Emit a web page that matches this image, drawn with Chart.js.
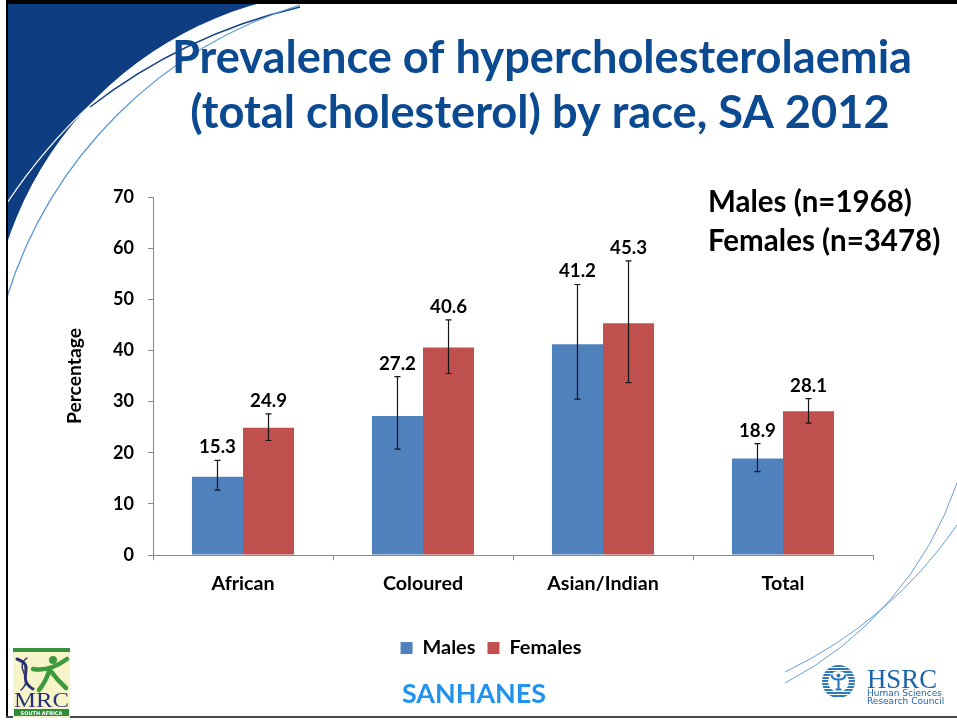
<!DOCTYPE html>
<html>
<head>
<meta charset="utf-8">
<title>Prevalence of hypercholesterolaemia by race, SA 2012</title>
<script src="https://cdn.jsdelivr.net/npm/chart.js@4.4.1/dist/chart.umd.min.js"></script>
<style>
  html, body { margin: 0; padding: 0; background: #fff; }
  #slide { position: relative; width: 957px; height: 722px; overflow: hidden; }
  canvas { display: block; }
</style>
</head>
<body>
<div id="slide"><canvas id="grafico" width="957" height="722"></canvas></div>
<script>
// Data
const categories = ['African', 'Coloured', 'Asian/Indian', 'Total'];
const males = [15.3, 27.2, 41.2, 18.9];
const females = [24.9, 40.6, 45.3, 28.1];
// 95% CI (error bars)
const malesLow = [12.7, 20.7, 30.5, 16.3];
const malesHigh = [18.5, 34.9, 52.9, 21.8];
const femalesLow = [22.4, 35.5, 33.7, 25.8];
const femalesHigh = [27.6, 46.0, 57.5, 30.6];
const yTicks = [0, 10, 20, 30, 40, 50, 60, 70];

const titleLines = ['Prevalence of hypercholesterolaemia', '(total cholesterol) by race, SA 2012'];
const sampleNotes = ['Males (n=1968)', 'Females (n=3478)'];

const BLUE = '#4f81bd';
const RED = '#c0504d';
const AXIS = '#898989';
const FONT = 'Lato';

// font size that makes a text fill a given width (Calibri is not installed)
const measurer = document.createElement('canvas').getContext('2d');
function fitSize(text, width, family = FONT, weight = 'bold') {
  measurer.font = `${weight} 100px ${family}`;
  return +(100 * width / measurer.measureText(text).width).toFixed(1);
}

const tickSize = fitSize('70', 21);
const catSize = fitSize('Asian/Indian', 112);
const legendSize = fitSize('Females', 72);
const valueSize = fitSize('15.3', 37);
const axisTitleSize = fitSize('Percentage', 96);
const titleSize = fitSize(titleLines[0], 740);
const noteSize = fitSize(sampleNotes[1], 232);
const footSize = fitSize('SANHANES', 144);

/* ── helpers for the slide decoration ── */
function circleFrom(p1, p2, p3) {
  const [ax, ay] = p1, [bx, by] = p2, [cx, cy] = p3;
  const d = 2 * (ax * (by - cy) + bx * (cy - ay) + cx * (ay - by));
  const ux = ((ax * ax + ay * ay) * (by - cy) + (bx * bx + by * by) * (cy - ay) + (cx * cx + cy * cy) * (ay - by)) / d;
  const uy = ((ax * ax + ay * ay) * (cx - bx) + (bx * bx + by * by) * (ax - cx) + (cx * cx + cy * cy) * (bx - ax)) / d;
  return { x: ux, y: uy, r: Math.hypot(ax - ux, ay - uy) };
}

function arcThrough(ctx, p1, p2, p3) {
  const c = circleFrom(p1, p2, p3);
  const ang = p => Math.atan2(p[1] - c.y, p[0] - c.x);
  const norm = a => ((a % (2 * Math.PI)) + 2 * Math.PI) % (2 * Math.PI);
  const a1 = ang(p1), a2 = ang(p2), a3 = ang(p3);
  ctx.beginPath();
  ctx.arc(c.x, c.y, c.r, a1, a3, norm(a2 - a1) > norm(a3 - a1));
  ctx.stroke();
}

function drawMrcLogo(ctx, x, y) {
  ctx.save();
  ctx.fillStyle = '#f6f4c8';
  ctx.fillRect(x, y, 57, 70);
  ctx.fillStyle = '#37903c';
  ctx.fillRect(x, y, 57, 4);
  // helix
  ctx.lineCap = 'round';
  ctx.strokeStyle = '#2b306f';
  ctx.lineWidth = 3;
  ctx.beginPath();
  ctx.moveTo(x + 4, y + 11);
  ctx.bezierCurveTo(x + 24, y + 18, x + 2, y + 30, x + 20, y + 41);
  ctx.stroke();
  ctx.lineWidth = 1.5;
  ctx.beginPath();
  ctx.moveTo(x + 14, y + 10);
  ctx.bezierCurveTo(x + 0, y + 20, x + 22, y + 30, x + 8, y + 42);
  ctx.stroke();
  // figure
  ctx.strokeStyle = '#3c9a3c';
  ctx.fillStyle = '#3c9a3c';
  ctx.lineWidth = 4.5;
  ctx.beginPath();
  ctx.moveTo(x + 20, y + 21);
  ctx.quadraticCurveTo(x + 36, y + 24, x + 54, y + 11);
  ctx.stroke();
  ctx.beginPath();
  ctx.moveTo(x + 37, y + 20);
  ctx.quadraticCurveTo(x + 34, y + 32, x + 26, y + 42);
  ctx.moveTo(x + 37, y + 22);
  ctx.quadraticCurveTo(x + 44, y + 32, x + 53, y + 40);
  ctx.stroke();
  ctx.beginPath();
  ctx.arc(x + 40, y + 12, 4, 0, Math.PI * 2);
  ctx.fill();
  // letters
  ctx.fillStyle = '#2c2f7c';
  ctx.font = '21px "Liberation Serif"';
  ctx.textAlign = 'left';
  ctx.textBaseline = 'alphabetic';
  const w = ctx.measureText('MRC').width;
  ctx.save();
  ctx.translate(x + 1, y + 59);
  ctx.scale(55 / w, 1);
  ctx.fillText('MRC', 0, 0);
  ctx.restore();
  ctx.fillStyle = '#2f8a3c';
  ctx.fillRect(x + 1, y + 61, 55, 7);
  ctx.fillStyle = '#fff';
  ctx.font = 'bold 5px "DejaVu Sans"';
  ctx.textAlign = 'center';
  ctx.fillText('SOUTH AFRICA', x + 28.5, y + 66.5);
  ctx.restore();
}

function drawHsrcLogo(ctx, cx, cy) {
  const r = 16.5;
  ctx.save();
  ctx.beginPath();
  ctx.arc(cx, cy, r, 0, Math.PI * 2);
  ctx.clip();
  ctx.fillStyle = '#2f79b9';
  ctx.fillRect(cx - r, cy - r, 2 * r, 2 * r);
  ctx.fillStyle = '#fff';
  for (let yy = cy - r; yy < cy + r; yy += 3) ctx.fillRect(cx - r, yy + 2, 2 * r, 1);
  ctx.beginPath();
  ctx.arc(cx, cy, 10.5, 0, Math.PI * 2);
  ctx.fill();
  ctx.restore();
  ctx.save();
  ctx.strokeStyle = '#2f79b9';
  ctx.fillStyle = '#2f79b9';
  ctx.lineWidth = 2.2;
  ctx.beginPath();
  ctx.moveTo(cx - 7, cy - 7);
  ctx.quadraticCurveTo(cx - 7, cy - 2, cx, cy - 2);
  ctx.quadraticCurveTo(cx + 7, cy - 2, cx + 7, cy - 7);
  ctx.moveTo(cx, cy - 2);
  ctx.lineTo(cx, cy + 8);
  ctx.moveTo(cx - 3, cy + 8);
  ctx.lineTo(cx + 3, cy + 8);
  ctx.stroke();
  ctx.beginPath();
  ctx.arc(cx, cy - 6, 2, 0, Math.PI * 2);
  ctx.fill();

  ctx.fillStyle = '#1f63a9';
  ctx.textAlign = 'left';
  ctx.textBaseline = 'alphabetic';
  ctx.font = `${fitSize('HSRC', 70, '"Liberation Serif"', 'normal')}px "Liberation Serif"`;
  ctx.fillText('HSRC', 867, 688);
  ctx.font = `${fitSize('Research Council', 77, '"DejaVu Sans"', 'normal')}px "DejaVu Sans"`;
  ctx.fillText('Human Sciences', 867, 696);
  ctx.fillText('Research Council', 867, 704);
  ctx.restore();
}

/* ── plugins ── */
const slideBackground = {
  id: 'slideBackground',
  beforeDraw(chart) {
    const { ctx, width, height } = chart;
    ctx.save();
    ctx.fillStyle = '#fff';
    ctx.fillRect(0, 0, width, height);

    // dark blue swoosh in the top-left corner (corner box minus a big circle)
    const c = circleFrom([8, 240], [83, 112], [250, 6]);
    ctx.save();
    ctx.beginPath();
    ctx.rect(7, 4, 300, 300);
    ctx.clip();
    ctx.beginPath();
    ctx.rect(7, 4, 300, 300);
    ctx.arc(c.x, c.y, c.r, 0, Math.PI * 2);
    ctx.fillStyle = '#0e3d82';
    ctx.fill('evenodd');
    ctx.restore();

    ctx.lineWidth = 1.3;
    ctx.strokeStyle = '#ffffff';
    arcThrough(ctx, [7, 203], [83, 112], [200, 26]);
    ctx.strokeStyle = '#143f85';
    arcThrough(ctx, [90, 107], [187, 47], [300, 7]);
    ctx.strokeStyle = '#5d97d3';
    arcThrough(ctx, [7, 297], [100, 133], [300, 5]);

    // thin curves bottom right
    ctx.lineWidth = 1;
    ctx.strokeStyle = '#6a9fd6';
    arcThrough(ctx, [957, 483], [883, 608], [785, 683]);
    arcThrough(ctx, [957, 525], [883, 608], [785, 672]);

    // slide frame
    ctx.fillStyle = '#000';
    ctx.fillRect(6, 0, width - 6, 4);
    ctx.fillRect(6, 0, 2, 718);
    ctx.fillStyle = '#4a4a4a';
    ctx.fillRect(6, 716, width - 6, 2);
    ctx.restore();
  }
};

const errorBars = {
  id: 'errorBars',
  afterDatasetsDraw(chart) {
    const { ctx, scales: { y } } = chart;
    ctx.save();
    chart.data.datasets.forEach((ds, i) => {
      const meta = chart.getDatasetMeta(i);
      meta.data.forEach((bar, j) => {
        const top = y.getPixelForValue(ds.upper[j]);
        const bottom = y.getPixelForValue(ds.lower[j]);
        ctx.strokeStyle = '#151515';
        ctx.lineWidth = 1.2;
        ctx.beginPath();
        ctx.moveTo(bar.x, top);
        ctx.lineTo(bar.x, bottom);
        ctx.moveTo(bar.x - 3, top);
        ctx.lineTo(bar.x + 3, top);
        ctx.moveTo(bar.x - 3, bottom);
        ctx.lineTo(bar.x + 3, bottom);
        ctx.stroke();

        // value above the error bar
        ctx.fillStyle = '#000';
        ctx.font = `bold ${valueSize}px ${FONT}`;
        ctx.textAlign = 'center';
        ctx.textBaseline = 'alphabetic';
        ctx.fillText(ds.data[j].toFixed(1), bar.x, top - 7);
      });
    });
    ctx.restore();
  }
};

const slideText = {
  id: 'slideText',
  afterDraw(chart) {
    const { ctx } = chart;
    ctx.save();
    ctx.textBaseline = 'alphabetic';

    ctx.fillStyle = '#0b4990';
    ctx.font = `bold ${titleSize}px ${FONT}`;
    ctx.textAlign = 'center';
    ctx.fillText(titleLines[0], 542, 73);
    ctx.fillText(titleLines[1], 540, 128);

    ctx.fillStyle = '#000';
    ctx.font = `bold ${noteSize}px ${FONT}`;
    ctx.textAlign = 'left';
    ctx.fillText(sampleNotes[0], 708, 212);
    ctx.fillText(sampleNotes[1], 708, 251);

    ctx.fillStyle = '#2192ee';
    ctx.font = `bold ${footSize}px ${FONT}`;
    ctx.textAlign = 'center';
    ctx.fillText('SANHANES', 474, 703);
    ctx.restore();

    drawMrcLogo(ctx, 13, 648);
    drawHsrcLogo(ctx, 838.5, 681.5);
  }
};

/* ── chart ── */
const grafico = new Chart(document.getElementById('grafico'), {
  type: 'bar',
  data: {
    labels: categories,
    datasets: [
      { label: 'Males', data: males, lower: malesLow, upper: malesHigh, backgroundColor: BLUE },
      { label: 'Females', data: females, lower: femalesLow, upper: femalesHigh, backgroundColor: RED }
    ]
  },
  options: {
    responsive: false,
    animation: false,
    devicePixelRatio: 1,
    categoryPercentage: 0.567,
    barPercentage: 1,
    layout: { padding: { top: 197, left: 109, right: 84, bottom: 54 } },
    scales: {
      x: {
        grid: { drawOnChartArea: false, tickLength: 5, color: AXIS, offset: true },
        border: { color: AXIS },
        ticks: { color: '#000', padding: 12, font: { family: FONT, weight: 'bold', size: catSize } },
        afterFit: s => { s.height = 71; }
      },
      y: {
        min: 0,
        max: 70,
        afterBuildTicks: s => { s.ticks = yTicks.map(v => ({ value: v })); },
        grid: { drawOnChartArea: false, tickLength: 5, color: AXIS },
        border: { color: AXIS },
        ticks: { color: '#000', padding: 14, font: { family: FONT, weight: 'bold', size: tickSize } },
        title: {
          display: true,
          text: 'Percentage',
          color: '#000',
          font: { family: FONT, weight: 'bold', size: axisTitleSize },
          padding: { top: -46, bottom: 0 }
        },
        afterFit: s => { s.width = 44; }
      }
    },
    plugins: {
      legend: {
        position: 'bottom',
        labels: {
          color: '#000',
          boxWidth: 12,
          boxHeight: 12,
          padding: 12,
          font: { family: FONT, weight: 'bold', size: legendSize }
        }
      },
      tooltip: { enabled: false }
    }
  },
  plugins: [slideBackground, errorBars, slideText]
});
</script>
</body>
</html>
